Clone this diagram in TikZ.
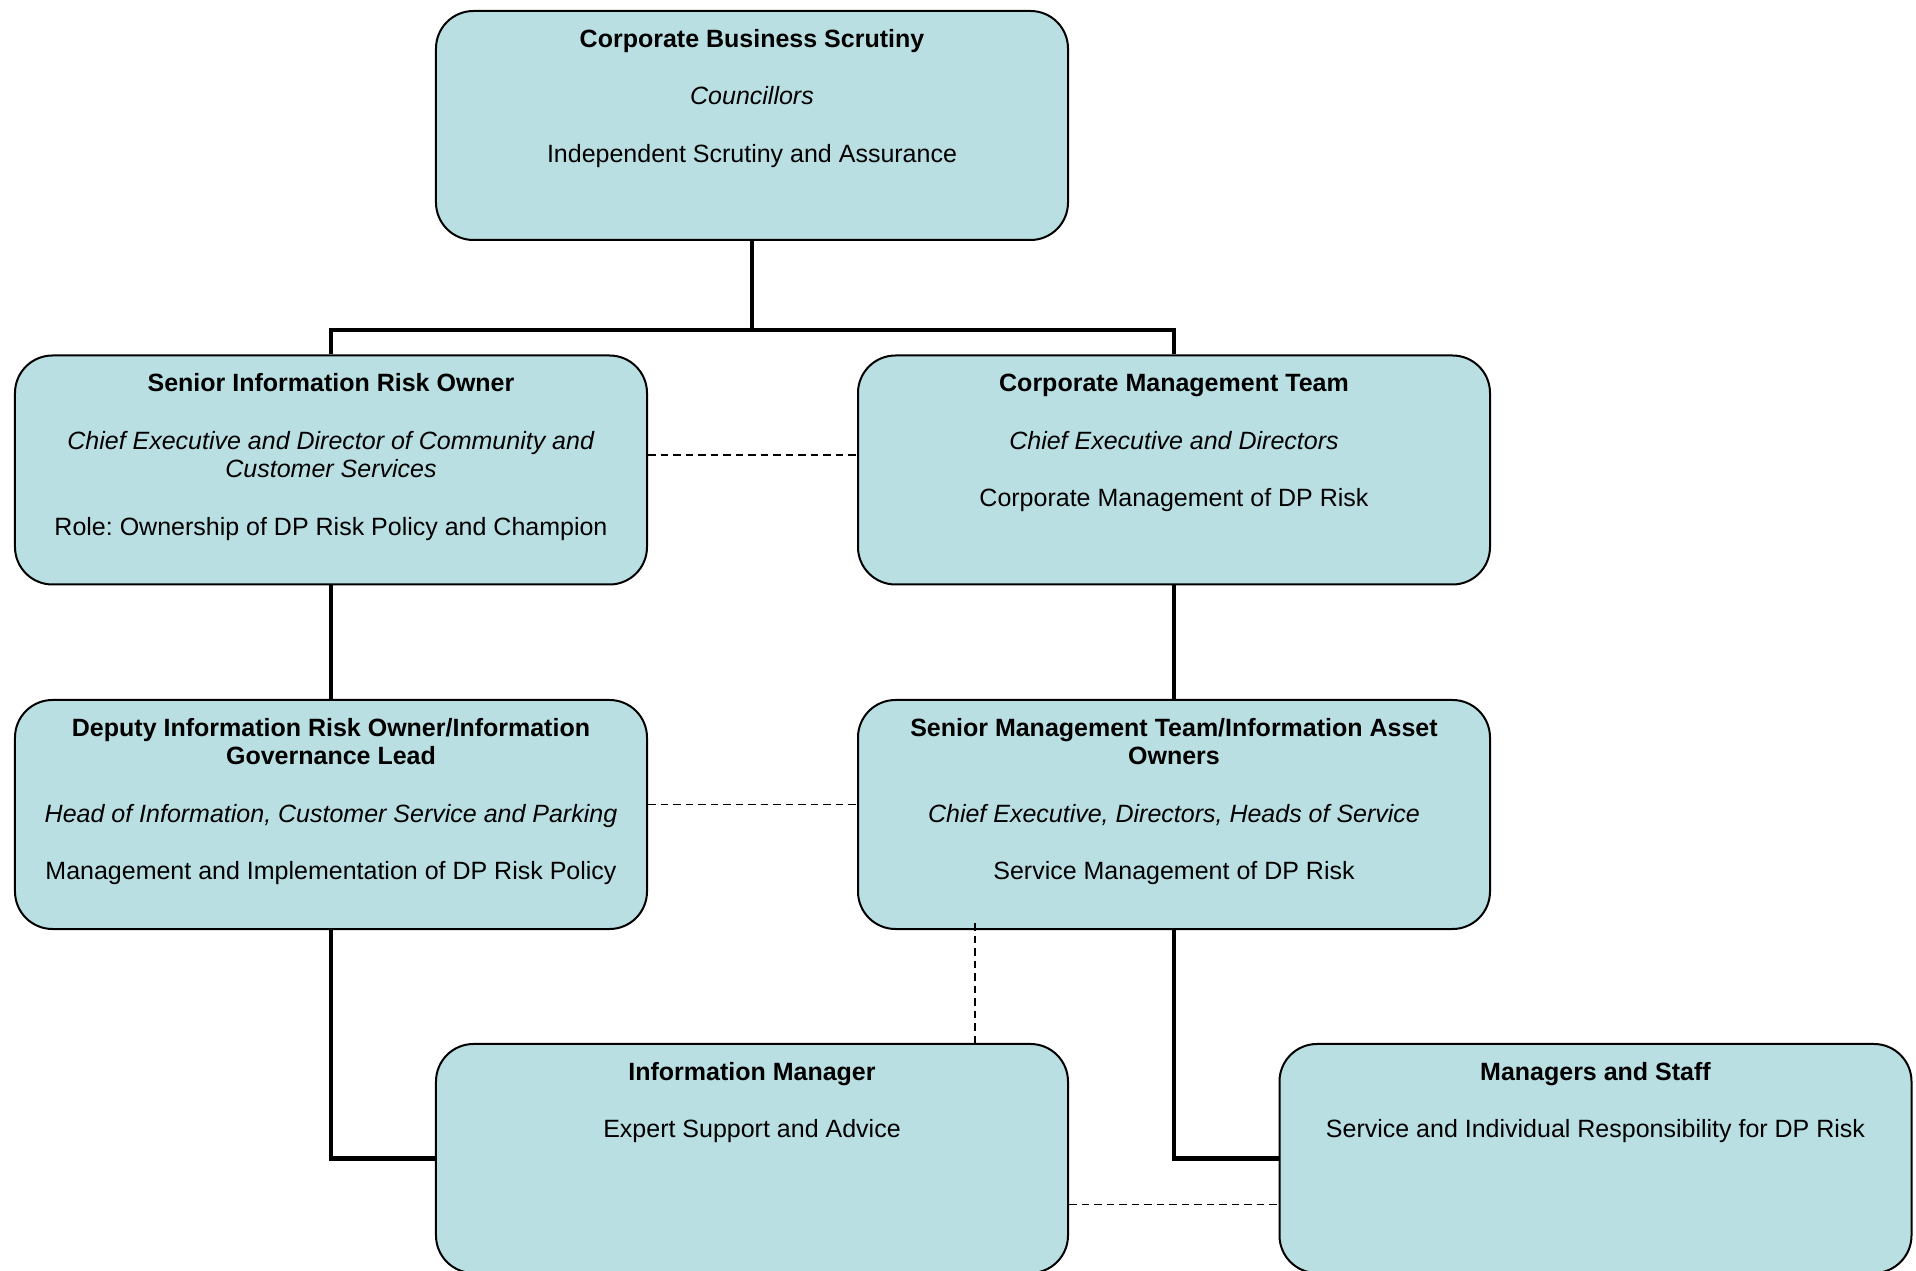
\documentclass[tikz,border=0pt]{standalone}
\usepackage{fontspec}
\setmainfont{Liberation Sans}
\frenchspacing
\definecolor{boxblue}{RGB}{185,223,227}
\newcommand{\orgbox}[1]{\parbox[c][91.6pt][t]{250pt}{\centering\fontsize{10}{11.5}\selectfont\vspace*{6.4pt}\strut#1}}
\begin{document}
\begin{tikzpicture}[x=0.4pt,y=-0.4pt,
  unit/.style={draw, fill=boxblue, line width=0.8pt, rounded corners=15pt, inner sep=0pt, minimum width=252.8pt, minimum height=91.6pt},
  reports/.style={line width=1.9pt},
  liaison/.style={line width=0.6pt, dash pattern=on 3pt off 2pt}]
\useasboundingbox (0,0) rectangle (1916,1271);
% the boxes
\node[unit] (cbs) at (752,125.5) {\orgbox{\textbf{Corporate Business Scrutiny}\\[11.5pt]\textit{Councillors}\\[11.5pt]Independent Scrutiny and Assurance}};
\node[unit] (siro) at (331,470) {\orgbox{\textbf{Senior Information Risk Owner}\\[11.5pt]\textit{Chief Executive and Director of Community and}\\\textit{Customer Services}\\[11.5pt]Role: Ownership of DP Risk Policy and Champion}};
\node[unit] (cmt) at (1174,470) {\orgbox{\textbf{Corporate Management Team}\\[11.5pt]\textit{Chief Executive and Directors}\\[11.5pt]Corporate Management of DP Risk}};
\node[unit] (diro) at (331,814.5) {\orgbox{\textbf{Deputy Information Risk Owner/Information}\\\textbf{Governance Lead}\\[11.5pt]\textit{Head of Information, Customer Service and Parking}\\[11.5pt]Management and Implementation of DP Risk Policy}};
\node[unit] (smt) at (1174,814.5) {\orgbox{\textbf{Senior Management Team/Information Asset}\\\textbf{Owners}\\[11.5pt]\textit{Chief Executive, Directors, Heads of Service}\\[11.5pt]Service Management of DP Risk}};
\node[unit] (im) at (752,1158.5) {\orgbox{\textbf{Information Manager}\\[11.5pt]Expert Support and Advice}};
\node[unit] (ms) at (1595.5,1158.5) {\orgbox{\textbf{Managers and Staff}\\[11.5pt]Service and Individual Responsibility for DP Risk}};
% reporting lines
\coordinate (split) at (752,330);
\draw[reports] (cbs.south) -- (split);
\draw[reports] (siro.north) |- (split) -| (cmt.north);
\draw[reports] (siro.south) -- (diro.north);
\draw[reports] (cmt.south) -- (smt.north);
\draw[reports] (diro.south) |- (im.west);
\draw[reports] (smt.south) |- (ms.west);
% dashed links
\draw[liaison] ([yshift=6pt]siro.east) -- ([yshift=6pt]cmt.west);
\draw[liaison] ([yshift=4pt]diro.east) -- ([yshift=4pt]smt.west);
\coordinate (drop) at ([xshift=-79.6pt,yshift=2.8pt]smt.south);
\draw[liaison] (drop) -- (drop |- im.north);
\draw[liaison] ([yshift=-18.4pt]im.east) -- ([yshift=-18.4pt]ms.west);
\end{tikzpicture}
\end{document}
